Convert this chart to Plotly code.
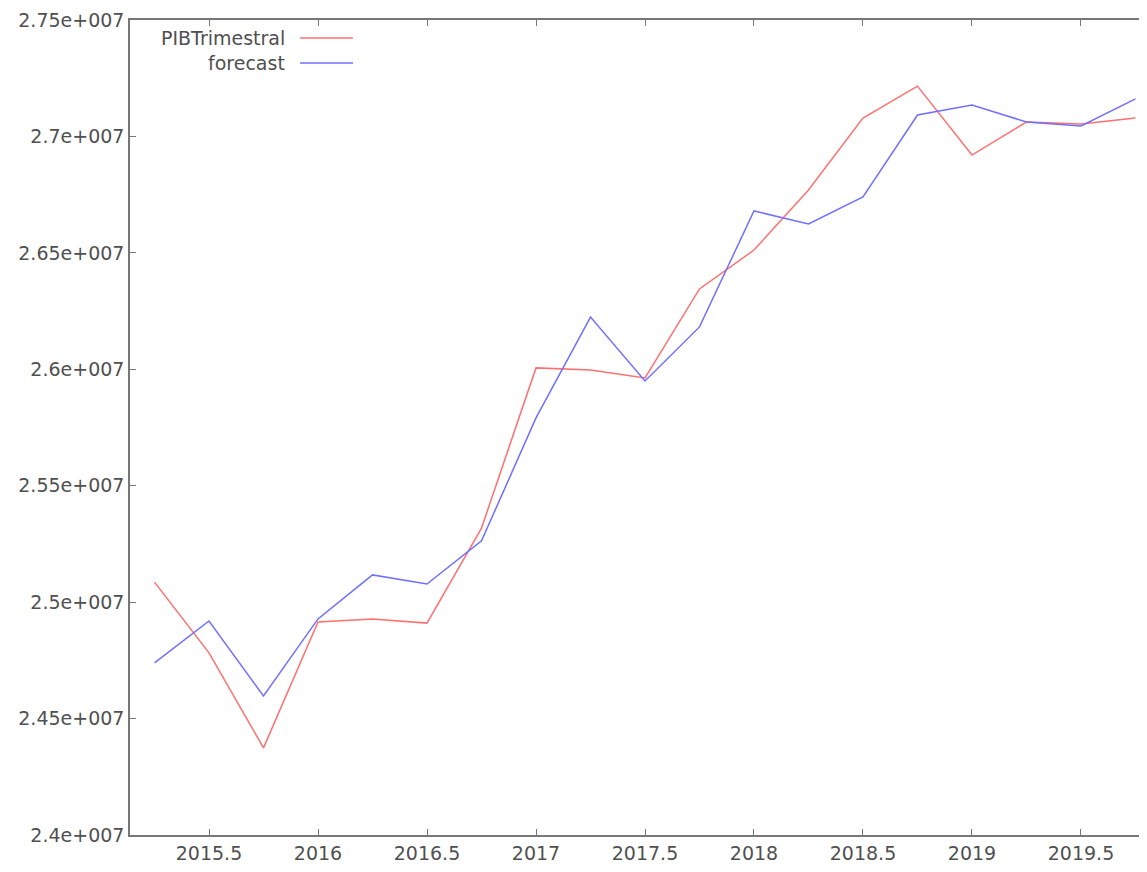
import plotly.graph_objects as go

quarters = [2015.25, 2015.5, 2015.75, 2016.0, 2016.25, 2016.5, 2016.75, 2017.0,
            2017.25, 2017.5, 2017.75, 2018.0, 2018.25, 2018.5, 2018.75, 2019.0,
            2019.25, 2019.5, 2019.75]

pib_trimestral = [25086000, 24782000, 24374000, 24915000, 24928000, 24910000, 25318000,
                  26006000, 25997000, 25963000, 26345000, 26512000, 26770000, 27079000,
                  27216000, 26920000, 27062000, 27053000, 27079000]

forecast = [24739000, 24919000, 24597000, 24928000, 25117000, 25078000, 25263000,
            25791000, 26224000, 25950000, 26182000, 26680000, 26624000, 26740000,
            27092000, 27135000, 27062000, 27045000, 27161000]

x_ticks = [2015.5, 2016, 2016.5, 2017, 2017.5, 2018, 2018.5, 2019, 2019.5]
x_tick_labels = ["2015.5", "2016", "2016.5", "2017", "2017.5", "2018", "2018.5", "2019", "2019.5"]
y_ticks = [24000000, 24500000, 25000000, 25500000, 26000000, 26500000, 27000000, 27500000]
y_tick_labels = ["2.4e+007", "2.45e+007", "2.5e+007", "2.55e+007", "2.6e+007",
                 "2.65e+007", "2.7e+007", "2.75e+007"]

series_names = ["PIBTrimestral", "forecast"]
series_colors = ["#ff7070", "#7070ff"]

fig = go.Figure()
fig.add_trace(go.Scatter(x=quarters, y=pib_trimestral, mode="lines", name=series_names[0],
                         line=dict(color=series_colors[0], width=1.5)))
fig.add_trace(go.Scatter(x=quarters, y=forecast, mode="lines", name=series_names[1],
                         line=dict(color=series_colors[1], width=1.5)))

font = dict(family="DejaVu Sans", size=19, color="#505050")

W, H = 1139, 856
L, R, T, B = 122, 0, 12, 29

fig.update_layout(
    width=W, height=H,
    margin=dict(l=L, r=R, t=T, b=B),
    plot_bgcolor="white", paper_bgcolor="white",
    showlegend=False,
    font=font,
    xaxis=dict(range=[2015.1376, 2019.8028], tickvals=x_ticks, ticktext=x_tick_labels,
               showgrid=False, zeroline=False, showline=True, linecolor="#777777",
               linewidth=1.5, mirror="ticks", ticks="inside", ticklen=6, tickcolor="#777777",
               tickfont=font),
    yaxis=dict(range=[24000000, 27500000], tickvals=y_ticks, ticktext=y_tick_labels,
               showgrid=False, zeroline=False, showline=True, linecolor="#777777",
               linewidth=1.5, ticks="inside", ticklen=6, tickcolor="#777777",
               tickfont=font),
)

# legend drawn manually (text right-aligned, sample line to the right)
plot_w = W - L - R
plot_h = H - T - B
legend_rows = [30, 55]
for name, color, ypix in zip(series_names, series_colors, legend_rows):
    yp = 1 - (ypix - T) / plot_h
    x_text = (279 - L) / plot_w
    x0 = (292 - L) / plot_w
    x1 = (345 - L) / plot_w
    fig.add_annotation(x=x_text, y=yp, xref="paper", yref="paper", text=name,
                       showarrow=False, xanchor="right", yanchor="middle",
                       font=font)
    fig.add_shape(type="line", xref="paper", yref="paper", x0=x0, x1=x1, y0=yp, y1=yp,
                  line=dict(color=color, width=1.5))

fig.write_html("out.html")
